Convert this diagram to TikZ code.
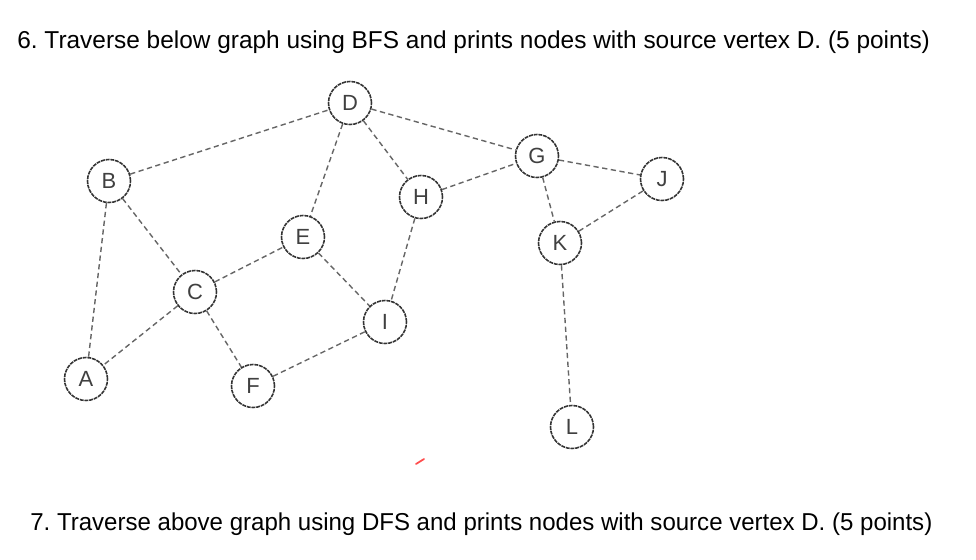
\documentclass[tikz,border=0pt]{standalone}
\usepackage{fontspec}
\setmainfont{Liberation Sans}
\frenchspacing
\begin{document}
\begin{tikzpicture}[
  x=0.02cm, y=-0.02cm,
  vertex/.style={circle, draw=black!80, line width=0.9pt, dash pattern=on 2.2pt off 0.5pt,
                 minimum size=0.86cm, inner sep=0pt, font=\fontsize{12.5}{14}\selectfont, text=black!75},
  edge/.style={draw=black!60, line width=0.8pt, densely dashed},
  question/.style={anchor=west, inner sep=0pt, font=\fontsize{13.9}{16}\selectfont}
]
\useasboundingbox (0,0) rectangle (976,560);

\node[question] (qbfs) at (17,42) {6. Traverse below graph using BFS and prints nodes with source vertex D. (5 points)};
\node[question] (qdfs) at (30,524) {\scalebox{0.984}[1]{7. Traverse above graph using DFS and prints nodes with source vertex D. (5 points)}};

\node[vertex] (D) at (350,103) {D};
\node[vertex] (B) at (109,181) {B};
\node[vertex] (G) at (537,156) {G};
\node[vertex] (J) at (662,179) {J};
\node[vertex] (H) at (421,197) {H};
\node[vertex] (E) at (303,237) {E};
\node[vertex] (K) at (560,243) {K};
\node[vertex] (C) at (195,292) {C};
\node[vertex] (I) at (385,322) {I};
\node[vertex] (A) at (86,379) {A};
\node[vertex] (F) at (253,386) {F};
\node[vertex] (L) at (572,427) {L};

\draw[edge] (B) -- (D);
\draw[edge] (D) -- (E);
\draw[edge] (D) -- (H);
\draw[edge] (D) -- (G);
\draw[edge] (H) -- (G);
\draw[edge] (G) -- (J);
\draw[edge] (G) -- (K);
\draw[edge] (K) -- (J);
\draw[edge] (K) -- (L);
\draw[edge] (B) -- (A);
\draw[edge] (B) -- (C);
\draw[edge] (C) -- (A);
\draw[edge] (C) -- (E);
\draw[edge] (C) -- (F);
\draw[edge] (E) -- (I);
\draw[edge] (H) -- (I);
\draw[edge] (F) -- (I);

% stray pen mark
\coordinate (markstart) at (416,464);
\coordinate (markend) at (424,459);
\draw[red!70, line width=1pt, line cap=round] (markstart) -- (markend);
\end{tikzpicture}
\end{document}
